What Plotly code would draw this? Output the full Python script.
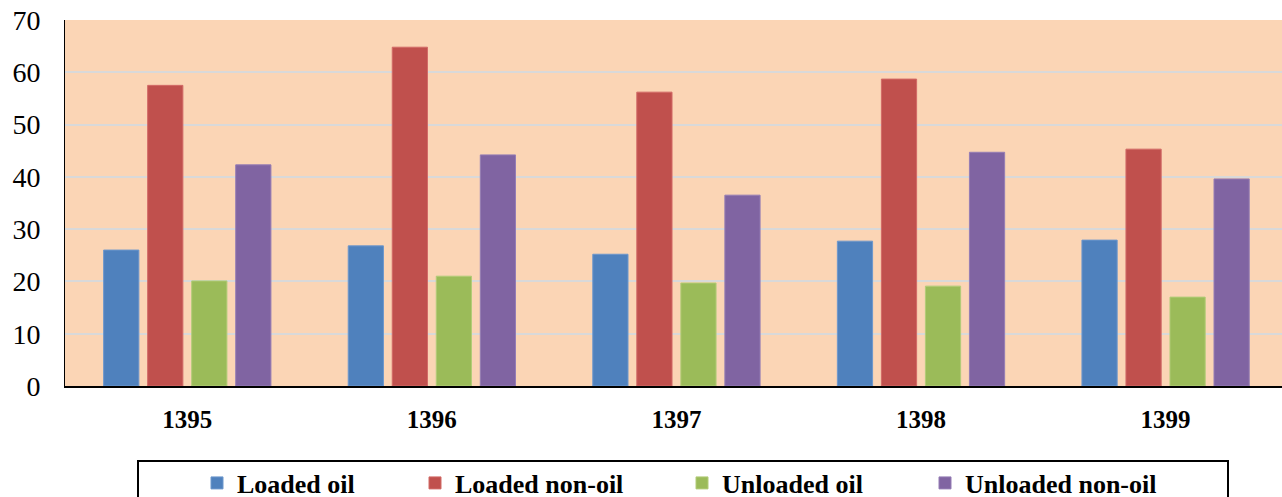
import plotly.graph_objects as go

years = ["1395", "1396", "1397", "1398", "1399"]
loaded_oil = [26.0, 26.8, 25.2, 27.7, 27.9]
loaded_non_oil = [57.5, 64.8, 56.2, 58.7, 45.3]
unloaded_oil = [20.1, 21.0, 19.7, 19.1, 17.0]
unloaded_non_oil = [42.3, 44.2, 36.5, 44.7, 39.6]

series_names = ["Loaded oil", "Loaded non-oil", "Unloaded oil", "Unloaded non-oil"]
series_values = [loaded_oil, loaded_non_oil, unloaded_oil, unloaded_non_oil]
colors = ["#4F81BD", "#C0504D", "#9BBB59", "#8064A2"]
edge_colors = ["#6D97CC", "#D26A67", "#B2CC78", "#957DB5"]
legend_ids = ["legend", "legend2", "legend3", "legend4"]

W, H = 1282, 497
TOP_Y, AXIS_Y = 20, 386
L, R, T, B = 65, 0, TOP_Y, H - AXIS_Y
plot_w = W - L - R
plot_h = AXIS_Y - TOP_Y

def px_x(p):
    return (p - L) / plot_w

def px_y(p):
    return (AXIS_Y - p) / plot_h

fig = go.Figure()
for name, vals, c, ec, lg in zip(series_names, series_values, colors, edge_colors, legend_ids):
    fig.add_trace(go.Bar(x=years, y=vals, name=name, legend=lg,
                         marker=dict(color=c, line=dict(color=ec, width=1))))

legend_text_starts = [237, 455, 722, 965]
leg_font = dict(family="Liberation Serif", size=26, color="black", weight="bold")
legend_layout = {}
for lg, ts in zip(legend_ids, legend_text_starts):
    legend_layout[lg] = dict(xref="container", yref="container",
                             x=(ts - 40) / W, xanchor="left",
                             y=(H - 483) / H, yanchor="middle",
                             orientation="h", font=leg_font, bgcolor="rgba(0,0,0,0)",
                             borderwidth=0, itemwidth=30)

fig.update_layout(
    width=W, height=H,
    margin=dict(l=L, r=R, t=T, b=B, autoexpand=False),
    paper_bgcolor="white",
    plot_bgcolor="#FBD5B5",
    barmode="group",
    bargap=0.28,
    bargroupgap=0.2,
    showlegend=True,
    **legend_layout,
    xaxis=dict(showgrid=False, showline=True, linecolor="black", linewidth=2,
               range=[-0.5, 4.476],
               tickfont=dict(family="Liberation Serif", size=25, color="black", weight="bold"),
               ticks="", ticklabelstandoff=10),
    yaxis=dict(range=[0, 70], dtick=10, showgrid=True, gridcolor="#D9D9D9", gridwidth=2,
               showline=True, linecolor="black", linewidth=1, zeroline=False,
               tickfont=dict(family="Liberation Serif", size=28, color="black"),
               ticks="", ticklabelstandoff=18),
    shapes=[dict(type="rect", xref="paper", yref="paper",
                 x0=px_x(138), x1=px_x(1228), y0=px_y(540), y1=px_y(461),
                 line=dict(color="black", width=2), fillcolor="rgba(0,0,0,0)")],
)

page_fix = """
var h=document.documentElement, b=document.body;
[h,b].forEach(function(e){e.style.margin='0';e.style.padding='0';e.style.overflow='hidden';});
"""

fig.write_html("out.html", config={"displayModeBar": False}, post_script=page_fix)
